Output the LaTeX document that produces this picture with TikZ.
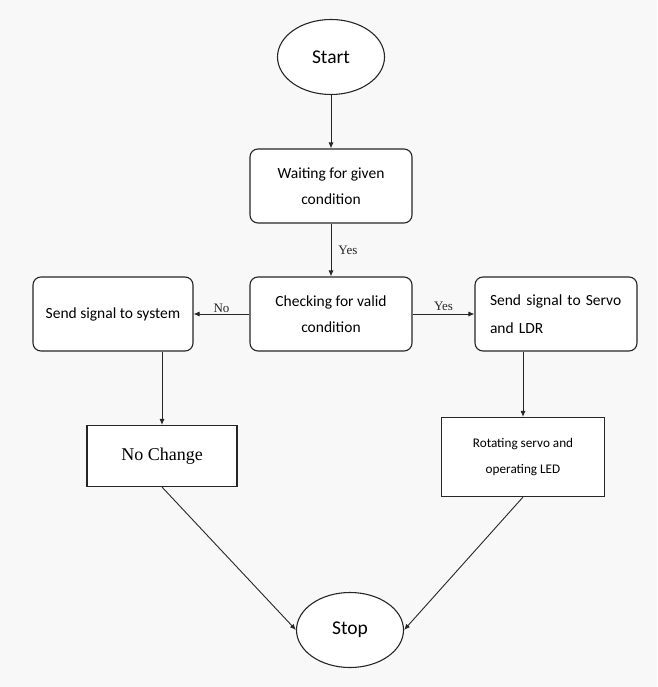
\documentclass[tikz,border=0pt]{standalone}
\usepackage{fontspec}
\setmainfont{Carlito}
\newfontfamily\tnrfont{Liberation Serif}
\usetikzlibrary{arrows.meta, positioning, shapes.geometric}
\definecolor{cpaper}{HTML}{F8F8F8}
\definecolor{cline}{HTML}{262626}
\tikzset{
  every picture/.style={line width=1.1pt, draw=cline},
  terminal/.style={ellipse, draw=cline, fill=white, inner sep=0pt, minimum width=107pt, minimum height=75pt, font=\fontsize{19.5}{23}\selectfont},
  rbox/.style={draw=cline, fill=white, rounded corners=8pt, align=center, inner sep=0pt, minimum width=162pt, minimum height=74pt, font=\fontsize{15.5}{26}\selectfont},
  sbox/.style={draw=cline, fill=white, align=center, inner sep=0pt, font=\fontsize{13.2}{26}\selectfont},
  arrow/.style={-{Latex[length=6pt, width=5pt]}, draw=cline, line width=0.9pt},
  lbl/.style={font=\tnrfont\fontsize{13}{15}\selectfont, text=cline, inner sep=1pt},
}

\begin{document}
\begin{tikzpicture}[x=1pt, y=-1pt]
  \fill[cpaper] (0,0) rectangle (657,687);
  \useasboundingbox (0,0) rectangle (657,687);
  % terminals
  \node[terminal] (start) at (331,57) {Start};
  \node[terminal] (stop) at (350,630) {Stop};
  % process boxes
  \node[rbox] (wait) at (331,186) {Waiting for given\\condition};
  \node[rbox] (check) at (331,314) {Checking for valid\\condition};
  \node[rbox, minimum width=160pt] (sendsys) at (113,314) {Send signal to system};
  \node[rbox, text width=132pt, align=left, font=\fontsize{15.5}{28}\selectfont] (sendservo) at (556,314) {Send signal to Servo\\and LDR};
  \node[sbox, minimum width=150pt, minimum height=61pt, font=\tnrfont\fontsize{18}{22}\selectfont] (nochange) at (162,456) {No Change};
  \node[sbox, minimum width=163pt, minimum height=79pt] (rotate) at (523,457) {Rotating servo and\\operating LED};
  % connectors
  \draw[arrow] (start) -- (wait);
  \draw[arrow] (wait) -- node[lbl, right=6pt] {Yes} (check);
  \draw[arrow] (check) -- node[lbl, above] {No} (sendsys);
  \draw[arrow] (check) -- node[lbl, above=2pt] {Yes} (sendservo);
  \draw[arrow] (nochange.north |- sendsys.south) -- (nochange.north);
  \draw[arrow] (rotate.north |- sendservo.south) -- (rotate.north);
  \draw[arrow] (nochange.south) -- (stop.west);
  \draw[arrow] (rotate.south) -- (stop.east);
\end{tikzpicture}
\end{document}
